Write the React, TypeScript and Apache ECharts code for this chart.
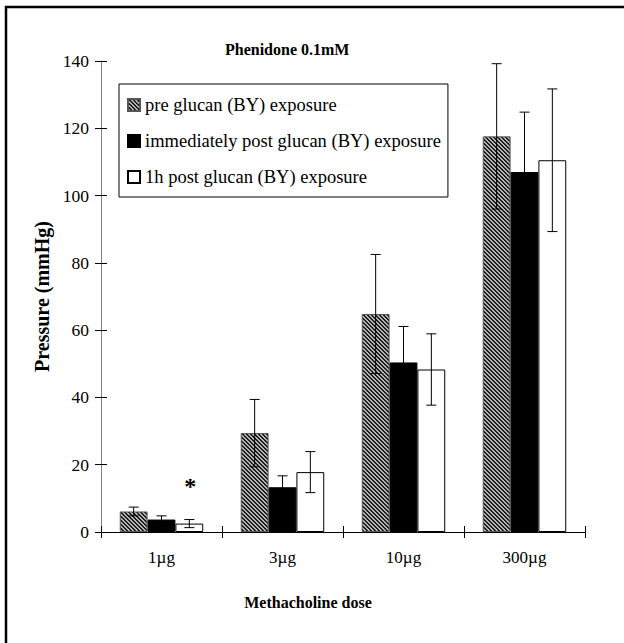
import React, { useEffect, useRef } from "react";
import * as echarts from "echarts";

const categories = ["1µg", "3µg", "10µg", "300µg"];
const seriesNames = [
  "pre glucan (BY) exposure",
  "immediately post glucan (BY) exposure",
  "1h post glucan (BY) exposure",
];
const preValues = [6.1, 29.4, 64.8, 117.6];
const preErrors = [1.3, 10.0, 17.7, 21.6];
const immValues = [3.7, 13.3, 50.4, 107.0];
const immErrors = [1.1, 3.4, 10.7, 17.8];
const oneHValues = [2.5, 17.8, 48.3, 110.5];
const oneHErrors = [1.2, 6.1, 10.6, 21.2];
const oneHMarks = ["*", "", "", ""];
const yTicks = { min: 0, max: 140, interval: 20 };

const FONT = "Liberation Serif";
const CAT_GAP = 0.31;

function makeHatch() {
  const c = document.createElement("canvas");
  c.width = 4;
  c.height = 4;
  const ctx = c.getContext("2d")!;
  ctx.fillStyle = "#b4b4b4";
  ctx.fillRect(0, 0, 4, 4);
  ctx.fillStyle = "#1e1e1e";
  for (let y = 0; y < 4; y++) {
    for (let x = 0; x < 4; x++) {
      const d = (((x - y) % 4) + 4) % 4;
      if (d === 0 || d === 1) ctx.fillRect(x, y, 1, 1);
    }
  }
  return c;
}

export default function App() {
  const ref = useRef<HTMLDivElement>(null);
  useEffect(() => {
    document.body.style.margin = "0";
    const chart = echarts.init(ref.current!, undefined, { renderer: "svg" });
    const values = [preValues, immValues, oneHValues];
    const errors = [preErrors, immErrors, oneHErrors];
    const errData: number[][] = [];
    values.forEach((arr, s) =>
      arr.forEach((v, i) => errData.push([i, v, errors[s][i], s]))
    );
    const hatch = { image: makeHatch(), repeat: "repeat" };
    const styles = [
      { color: hatch, borderColor: "#555", borderWidth: 1 },
      { color: "#000", borderColor: "#000", borderWidth: 1 },
      { color: "#fff", borderColor: "#000", borderWidth: 1 },
    ];
    const barSeries = values.map((arr, s) => ({
      type: "bar",
      name: seriesNames[s],
      barGap: "0%",
      barCategoryGap: CAT_GAP * 100 + "%",
      itemStyle: styles[s],
      data:
        s === 2
          ? arr.map((v, i) =>
              oneHMarks[i]
                ? {
                    value: v,
                    label: {
                      show: true,
                      formatter: oneHMarks[i],
                      position: "top",
                      offset: [1, -21],
                      fontFamily: FONT,
                      fontWeight: "bold",
                      fontSize: 24,
                      color: "#000",
                    },
                  }
                : v
            )
          : arr,
    }));
    chart.setOption({
      animation: false,
      title: {
        text: "Phenidone 0.1mM",
        left: 220,
        top: 36,
        textStyle: { fontFamily: FONT, fontWeight: "bold", fontSize: 16, color: "#000" },
      },
      graphic: [
        {
          type: "rect",
          shape: { x: 6, y: 7, width: 1000, height: 1000 },
          style: { fill: "none", stroke: "#000", lineWidth: 2.5 },
          z: 100,
        },
      ],
      legend: {
        data: seriesNames.map((n) => ({ name: n, icon: "rect" })),
        orient: "vertical",
        left: 119,
        top: 84,
        itemWidth: 12,
        itemHeight: 12,
        itemGap: 16,
        padding: [11, 7, 10, 8],
        borderColor: "#000",
        borderWidth: 1,
        backgroundColor: "#fff",
        textStyle: { fontFamily: FONT, fontSize: 18.5, lineHeight: 20, color: "#000" },
      },
      grid: { left: 101, right: 39, top: 61, bottom: 111, containLabel: false },
      xAxis: [
        {
          type: "category",
          data: categories,
          position: "bottom",
          axisLine: { show: true, lineStyle: { color: "#000", width: 1 } },
          axisTick: { show: true, length: 6, interval: 0, lineStyle: { color: "#000" } },
          axisLabel: { fontFamily: FONT, fontSize: 17, color: "#000", margin: 17 },
          name: "Methacholine dose",
          nameLocation: "middle",
          nameGap: 62,
          nameTextStyle: {
            fontFamily: FONT,
            fontWeight: "bold",
            fontSize: 16,
            color: "#000",
            padding: [0, 70, 0, 0],
          },
        },
        {
          type: "category",
          data: categories,
          position: "bottom",
          offset: 0,
          axisLine: { show: false },
          axisTick: { show: true, inside: true, length: 6, interval: 0, lineStyle: { color: "#000" } },
          axisLabel: { show: false },
        },
      ],
      yAxis: [
        {
          type: "value",
          ...yTicks,
          position: "left",
          axisLine: { show: true, lineStyle: { color: "#808080", width: 1 } },
          axisTick: { show: true, length: 6, lineStyle: { color: "#000" } },
          axisLabel: { fontFamily: FONT, fontSize: 17.5, color: "#000", margin: 12 },
          splitLine: { show: false },
          name: "Pressure (mmHg)",
          nameLocation: "middle",
          nameGap: 45,
          nameTextStyle: { fontFamily: FONT, fontWeight: "bold", fontSize: 20, color: "#000" },
        },
        {
          type: "value",
          ...yTicks,
          position: "left",
          offset: 0,
          axisLine: { show: false },
          axisTick: { show: true, inside: true, length: 6, lineStyle: { color: "#000" } },
          axisLabel: { show: false },
          splitLine: { show: false },
        },
      ],
      series: [
        ...barSeries,
        {
          type: "custom",
          xAxisIndex: 0,
          yAxisIndex: 0,
          encode: { x: 0, y: 1 },
          data: errData,
          z: 10,
          renderItem: (params: any, api: any) => {
            const cat = api.value(0);
            const v = api.value(1);
            const e = api.value(2);
            const s = api.value(3);
            const band = api.size([1, 0])[0];
            const bw = (band * (1 - CAT_GAP)) / 3;
            const cx = api.coord([cat, v])[0] + (s - 1) * bw;
            const yTop = api.coord([cat, v + e])[1];
            const yBot = api.coord([cat, Math.max(0, v - e)])[1];
            const hw = 5;
            const st = { stroke: "#000", lineWidth: 1 };
            return {
              type: "group",
              children: [
                { type: "line", shape: { x1: cx, y1: yTop, x2: cx, y2: yBot }, style: st },
                { type: "line", shape: { x1: cx - hw, y1: yTop, x2: cx + hw, y2: yTop }, style: st },
                { type: "line", shape: { x1: cx - hw, y1: yBot, x2: cx + hw, y2: yBot }, style: st },
              ],
            };
          },
        },
      ],
    });
    return () => chart.dispose();
  }, []);
  return <div ref={ref} style={{ width: 624, height: 643 }} />;
}
